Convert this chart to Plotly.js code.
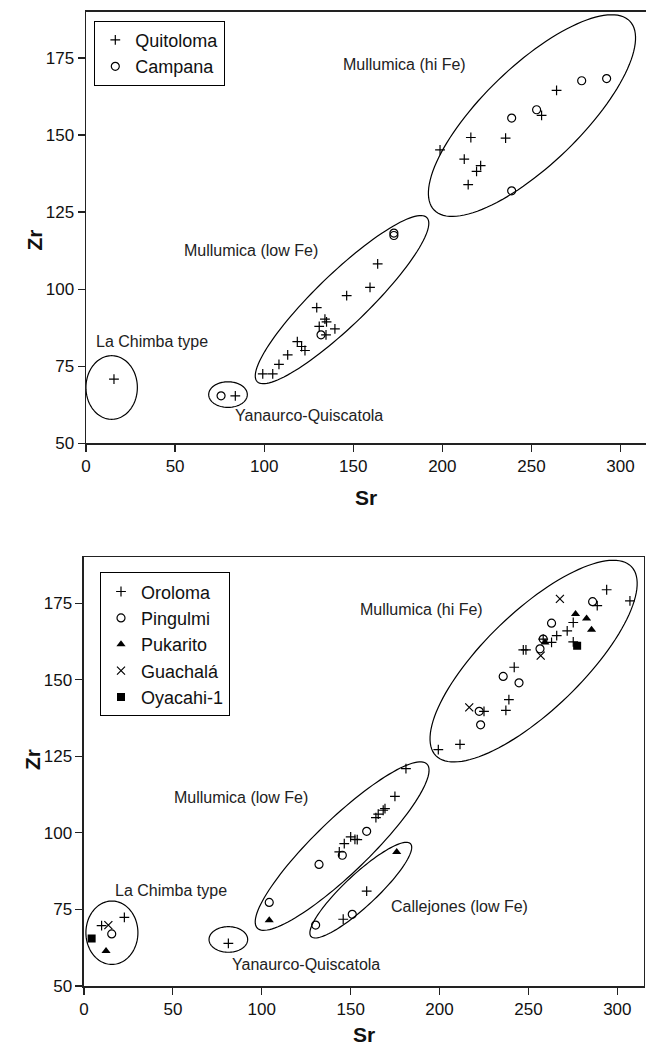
<!DOCTYPE html>
<html><head><meta charset="utf-8">
<script src="https://cdn.plot.ly/plotly-3.0.1.min.js"></script>
<style>html,body{margin:0;padding:0;background:#fff}#chart{width:646px;height:1046px}</style>
</head><body><div id="chart"></div>
<script>
// ---------- Top panel data ----------
const quitolomaSr = [15.7, 83.8, 99.2, 104.8, 108.3, 113.2, 118.6, 121.0, 122.9, 129.5, 130.9, 134.1, 135.0, 134.7, 139.7, 146.3, 159.4, 163.7, 198.7, 216.0, 212.3, 221.5, 219.2, 214.5, 235.5, 255.7, 264.1];
const quitolomaZr = [70.8, 65.4, 72.5, 72.5, 75.6, 78.7, 83.0, 81.4, 80.1, 94.0, 87.9, 90.3, 89.4, 85.2, 87.1, 97.9, 100.6, 108.2, 145.2, 149.2, 142.2, 140.1, 138.2, 133.9, 149.0, 156.4, 164.5];
const campanaSr = [75.8, 131.9, 172.8, 172.8, 238.9, 252.9, 278.2, 292.2, 238.9];
const campanaZr = [65.4, 85.2, 118.2, 117.4, 155.5, 158.2, 167.6, 168.3, 131.9];

// ---------- Bottom panel data ----------
const orolomaSr = [9.9, 22.7, 81.2, 143.6, 146.4, 150.0, 152.4, 153.7, 164.2, 165.5, 168.3, 169.3, 174.9, 181.1, 159.0, 145.8, 199.3, 211.5, 225.0, 237.3, 239.0, 242.0, 247.1, 248.6, 258.3, 263.0, 265.9, 271.8, 275.2, 275.2, 288.7, 294.0, 307.1];
const orolomaZr = [69.7, 72.4, 63.9, 93.8, 96.5, 98.7, 97.9, 97.8, 105.0, 106.1, 107.4, 107.9, 111.9, 121.0, 81.0, 71.8, 127.2, 128.9, 139.7, 140.0, 143.5, 154.1, 159.8, 159.8, 163.3, 162.2, 164.4, 166.0, 168.7, 162.4, 174.2, 179.4, 175.8];
const pingulmiSr = [15.6, 104.2, 132.2, 130.3, 145.3, 159.0, 150.9, 222.3, 223.1, 235.8, 244.7, 256.5, 258.3, 263.0, 286.1];
const pingulmiZr = [67.0, 77.3, 89.7, 69.9, 92.7, 100.5, 73.4, 139.7, 135.3, 151.1, 149.0, 160.1, 163.3, 168.5, 175.5];
const pukaritoSr = [12.4, 104.2, 175.9, 259.3, 276.5, 282.7, 285.5];
const pukaritoZr = [61.4, 71.5, 93.8, 162.2, 171.5, 170.0, 166.3];
const guachalaSr = [13.7, 216.7, 256.9, 267.7];
const guachalaZr = [69.9, 141.0, 157.9, 176.4];
const oyacahiSr = [4.3, 277.4];
const oyacahiZr = [65.5, 161.1];

const xTicks = [0, 50, 100, 150, 200, 250, 300];
const yTicks = [50, 75, 100, 125, 150, 175];

// ---------- Layout geometry ----------
const W = 646, H = 1046;
const topXDom = [0.13313, 1.0], topYDom = [0.57620, 0.98881];
const botXDom = [0.13003, 0.99690], botYDom = [0.05736, 0.46721];
const topXRange = [0, 314.3], botXRange = [0, 315.0], yRange = [50, 190];

const FONT = 'Liberation Sans, Arial, sans-serif';

// Group outlines: centre in data units, semi-axes in px, angle in degrees
const topOutlines = [
  {cx: 14.4, cy: 68.1, a: 25.7, b: 31.8, ang: 0},
  {cx: 79.7, cy: 65.8, a: 19.3, b: 12.8, ang: 0},
  {cx: 143.7, cy: 96.6, a: 118, b: 26, ang: 44},
  {cx: 250.3, cy: 156.3, a: 136, b: 49, ang: 44}
];
const botOutlines = [
  {cx: 15.7, cy: 67.4, a: 26, b: 31.7, ang: 0},
  {cx: 81.2, cy: 65.2, a: 19.3, b: 12.8, ang: 0},
  {cx: 145.2, cy: 95.7, a: 118, b: 27, ang: 44},
  {cx: 155.7, cy: 81.3, a: 68, b: 16, ang: 43},
  {cx: 252.9, cy: 156.1, a: 136, b: 49, ang: 44}
];

const topLabels = [
  {t: 'Mullumica (hi Fe)', x: 179, y: 172.8},
  {t: 'Mullumica (low Fe)', x: 92.8, y: 112.5},
  {t: 'La Chimba type', x: 37.3, y: 83.0},
  {t: 'Yanaurco-Quiscatola', x: 125.2, y: 58.9}
];
const botLabels = [
  {t: 'Mullumica (hi Fe)', x: 189.7, y: 172.9},
  {t: 'Mullumica (low Fe)', x: 88.4, y: 111.5},
  {t: 'La Chimba type', x: 49.0, y: 81.3},
  {t: 'Yanaurco-Quiscatola', x: 125.0, y: 57.1},
  {t: 'Callejones (low Fe)', x: 211.5, y: 75.8}
];

function ellipsePath(e, kx, ky) {
  const th = e.ang * Math.PI / 180, n = 120;
  let d = '';
  for (let i = 0; i <= n; i++) {
    const t = 2 * Math.PI * i / n;
    const px = e.a * Math.cos(t) * Math.cos(th) - e.b * Math.sin(t) * Math.sin(th);
    const py = e.a * Math.cos(t) * Math.sin(th) + e.b * Math.sin(t) * Math.cos(th);
    const x = e.cx + px / kx, y = e.cy + py / ky;
    d += (i === 0 ? 'M' : 'L') + x.toFixed(3) + ',' + y.toFixed(3);
  }
  return d + 'Z';
}

const kxTop = (topXDom[1] - topXDom[0]) * W / (topXRange[1] - topXRange[0]);
const kyTop = (topYDom[1] - topYDom[0]) * H / (yRange[1] - yRange[0]);
const kxBot = (botXDom[1] - botXDom[0]) * W / (botXRange[1] - botXRange[0]);
const kyBot = (botYDom[1] - botYDom[0]) * H / (yRange[1] - yRange[0]);

const shapes = [];
topOutlines.forEach(e => shapes.push({type: 'path', xref: 'x', yref: 'y', path: ellipsePath(e, kxTop, kyTop), line: {color: '#000', width: 1.2}}));
botOutlines.forEach(e => shapes.push({type: 'path', xref: 'x2', yref: 'y2', path: ellipsePath(e, kxBot, kyBot), line: {color: '#000', width: 1.2}}));

const annotations = [];
topLabels.forEach(l => annotations.push({text: l.t, x: l.x, y: l.y, xref: 'x', yref: 'y', showarrow: false, font: {family: FONT, size: 16, color: '#222'}}));
botLabels.forEach(l => annotations.push({text: l.t, x: l.x, y: l.y, xref: 'x2', yref: 'y2', showarrow: false, font: {family: FONT, size: 16, color: '#222'}}));

const titleFont = {family: FONT, size: 21, color: '#111'};
// y-axis titles (rotated), placed to the left of the tick labels
annotations.push({text: '<b>Zr</b>', textangle: -90, xref: 'paper', yref: 'paper', x: 20 / W, y: 1 - 227.5 / H, showarrow: false, font: titleFont});
annotations.push({text: '<b>Zr</b>', textangle: -90, xref: 'paper', yref: 'paper', x: 19 / W, y: 1 - 772 / H, showarrow: false, font: titleFont});

const lineMk = (sym, size) => ({symbol: sym, size: size, color: '#000', line: {color: '#000', width: 1.2}});
const openCircle = {symbol: 'circle-open', size: 8, color: '#000', line: {color: '#000', width: 1.2}};

const traces = [
  {x: quitolomaSr, y: quitolomaZr, name: 'Quitoloma', type: 'scatter', mode: 'markers', xaxis: 'x', yaxis: 'y', legend: 'legend', marker: lineMk('cross-thin-open', 7)},
  {x: campanaSr, y: campanaZr, name: 'Campana', type: 'scatter', mode: 'markers', xaxis: 'x', yaxis: 'y', legend: 'legend', marker: openCircle},
  {x: orolomaSr, y: orolomaZr, name: 'Oroloma', type: 'scatter', mode: 'markers', xaxis: 'x2', yaxis: 'y2', legend: 'legend2', marker: lineMk('cross-thin-open', 7)},
  {x: pingulmiSr, y: pingulmiZr, name: 'Pingulmi', type: 'scatter', mode: 'markers', xaxis: 'x2', yaxis: 'y2', legend: 'legend2', marker: openCircle},
  {x: pukaritoSr, y: pukaritoZr, name: 'Pukarito', type: 'scatter', mode: 'markers', xaxis: 'x2', yaxis: 'y2', legend: 'legend2', marker: {symbol: 'triangle-up', size: 8, color: '#000', line: {width: 0}}},
  {x: guachalaSr, y: guachalaZr, name: 'Guachalá', type: 'scatter', mode: 'markers', xaxis: 'x2', yaxis: 'y2', legend: 'legend2', marker: lineMk('x-thin-open', 8)},
  {x: oyacahiSr, y: oyacahiZr, name: 'Oyacahi-1', type: 'scatter', mode: 'markers', xaxis: 'x2', yaxis: 'y2', legend: 'legend2', marker: {symbol: 'square', size: 8, color: '#000', line: {width: 0}}}
];

const axBase = {
  showgrid: false, zeroline: false, showline: true, linecolor: '#222', linewidth: 1.5,
  ticks: 'outside', ticklen: 7, tickwidth: 1.2, tickcolor: '#222',
  tickfont: {family: FONT, size: 17, color: '#111'}, automargin: false, fixedrange: true
};

const layout = {
  width: W, height: H, margin: {l: 0, r: 0, t: 0, b: 0},
  paper_bgcolor: '#fff', plot_bgcolor: '#fff', showlegend: true,
  xaxis: Object.assign({}, axBase, {domain: topXDom, range: topXRange, anchor: 'y', tickvals: xTicks, mirror: true,
    title: {text: '<b>Sr</b>', font: titleFont, standoff: 15}}),
  yaxis: Object.assign({}, axBase, {domain: topYDom, range: yRange, anchor: 'x', tickvals: yTicks, mirror: false}),
  xaxis2: Object.assign({}, axBase, {domain: botXDom, range: botXRange, anchor: 'y2', tickvals: xTicks, mirror: true,
    title: {text: '<b>Sr</b>', font: titleFont, standoff: 15}}),
  yaxis2: Object.assign({}, axBase, {domain: botYDom, range: yRange, anchor: 'x2', tickvals: yTicks, mirror: true}),
  legend: {x: 94.3 / W, y: 1 - 20.7 / H, xanchor: 'left', yanchor: 'top', bgcolor: '#fff', bordercolor: '#000', borderwidth: 1,
    font: {family: FONT, size: 18, color: '#111'}, itemwidth: 30},
  legend2: {x: 100 / W, y: 1 - 572.3 / H, xanchor: 'left', yanchor: 'top', bgcolor: '#fff', bordercolor: '#000', borderwidth: 1,
    font: {family: FONT, size: 18, color: '#111'}, itemwidth: 30},
  shapes: shapes, annotations: annotations
};

Plotly.newPlot('chart', traces, layout, {displayModeBar: false, staticPlot: true});
</script>
</body></html>
